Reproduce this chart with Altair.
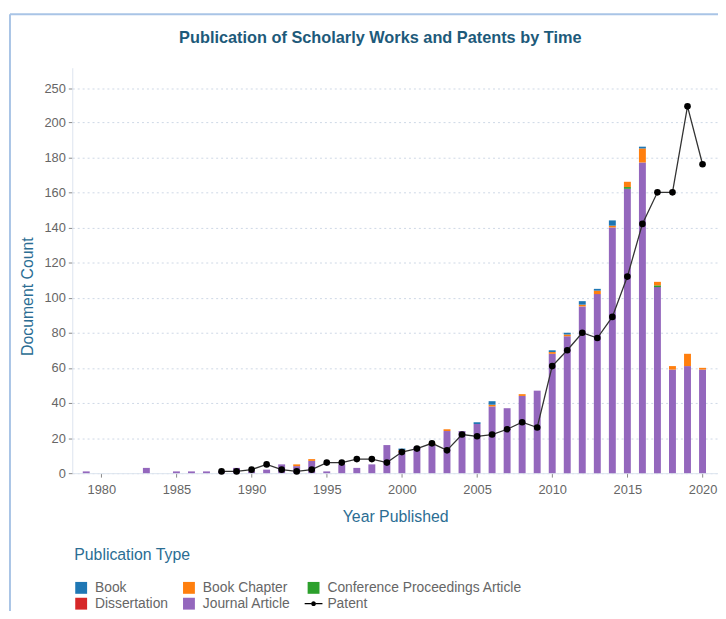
import altair as alt
import pandas as pd

# ---- data ----
years = list(range(1979, 2021))
journal_article = [1, 0, 0, 0, 3, 0, 1, 1, 1, 1, 3, 1, 2, 5, 4, 7, 1, 5, 3, 5,
                   16, 12, 15, 16, 24, 24, 28, 38, 37, 44, 47, 68, 78, 95, 102, 140,
                   162, 177, 106, 59, 61, 59]
dissertation = [0] * 42
conference = [0] * 36 + [1, 0, 1, 0, 0, 0]
book_chapter = [0, 0, 0, 0, 0, 0, 0, 0, 0, 0, 0, 0, 0, 0, 1, 1, 0, 0, 0, 0,
                0, 1, 0, 1, 1, 0, 0, 1, 0, 1, 0, 1, 1, 1, 2, 1,
                3, 8, 2, 2, 7, 1]
book = [0, 0, 0, 0, 0, 0, 0, 0, 0, 0, 0, 0, 0, 0, 0, 0, 0, 0, 0, 0,
        0, 1, 0, 0, 0, 0, 1, 2, 0, 0, 0, 1, 1, 2, 1, 3,
        0, 1, 0, 0, 0, 0]

patent_years = list(range(1988, 2021))
patent = [1, 1, 2, 5, 2, 1, 2, 6, 6, 8, 8, 6, 12, 14, 17, 13, 22, 21, 22, 25,
          29, 26, 61, 70, 80, 77, 89, 112, 142, 160, 160, 209, 176]

types = ["Book", "Book Chapter", "Conference Proceedings Article",
         "Dissertation", "Journal Article", "Patent"]
colors = ["#1f77b4", "#ff7f0e", "#2ca02c", "#d62728", "#9467bd", "#000000"]
stack_rank = {"Journal Article": 0, "Dissertation": 1,
              "Conference Proceedings Article": 2, "Book Chapter": 3, "Book": 4}

y_ticks = [0, 20, 40, 60, 80, 100, 120, 140, 160, 180, 200, 250]
x_ticks = [1980, 1985, 1990, 1995, 2000, 2005, 2010, 2015, 2020]

rows = []
for name, vals in [("Journal Article", journal_article), ("Dissertation", dissertation),
                   ("Conference Proceedings Article", conference),
                   ("Book Chapter", book_chapter), ("Book", book)]:
    for yr, v in zip(years, vals):
        if v:
            rows.append({"year": yr, "type": name, "count": v, "rank": stack_rank[name]})
bars_df = pd.DataFrame(rows)
pat_df = pd.DataFrame({"year": patent_years, "count": patent})

FONT = "Liberation Sans"
TITLE_BLUE = "#2b6d93"
W, H = 653, 410

x_scale = alt.Scale(domain=[1978.4, 2020.7], nice=False, zero=False)
# the reference axis is linear up to ~210, then compressed up to its 250 tick
y_scale = alt.Scale(domain=[0, 210, 250, 301], range=[H, 37.25, 21, 0], nice=False, zero=False)

x_axis = alt.Axis(values=x_ticks, format="d", grid=False, domainColor="#dde5ef",
                  tickColor="#888", tickSize=4, tickCount=20, labelFontSize=13, labelColor="#666",
                  labelFont=FONT, labelPadding=7, titleFont=FONT, titleFontSize=16,
                  titleFontWeight="normal", titleColor=TITLE_BLUE, titlePadding=12)
y_axis = alt.Axis(values=y_ticks, tickCount=30, labelOverlap=False, grid=True,
                  gridColor="#cdd8e6", gridDash=[2, 3],
                  domainColor="#dde5ef", tickColor="#888", tickSize=4,
                  labelFontSize=13, labelColor="#666", labelFont=FONT, labelPadding=3,
                  titleFont=FONT, titleFontSize=16, titleFontWeight="normal",
                  titleColor=TITLE_BLUE, titleAngle=-90, titleX=-45, titleY=231,
                  titleAlign="center", titleBaseline="middle")

legend = alt.Legend(
    title="Publication Type", orient="none", legendX=2, legendY=485,
    direction="horizontal", columns=3, titleFont=FONT, titleFontSize=16,
    titleFontWeight="normal", titleColor=TITLE_BLUE, titlePadding=18,
    labelFont=FONT, labelFontSize=14, labelColor="#666", labelOffset=7, labelLimit=400,
    symbolSize=144, rowPadding=2, columnPadding=14, symbolStrokeWidth=0,
    symbolType={"expr": "datum.label == 'Patent' ? "
                "'M-1.5,-0.1H-0.4V0.1H-1.5Z M-0.4,0A0.4,0.4 0 1,1 0.4,0A0.4,0.4 0 1,1 -0.4,0Z M0.4,-0.1H1.5V0.1H0.4Z'"
                " : 'square'"},
)

bars = alt.Chart(bars_df).mark_bar(size=7).encode(
    x=alt.X("year:Q", scale=x_scale, axis=x_axis, title="Year Published"),
    y=alt.Y("count:Q", stack="zero", scale=y_scale, axis=y_axis, title="Document Count"),
    color=alt.Color("type:N", scale=alt.Scale(domain=types, range=colors), legend=legend),
    order=alt.Order("rank:Q", sort="ascending"),
)

line = alt.Chart(pat_df).mark_line(color="#333333", strokeWidth=1.3).encode(
    x=alt.X("year:Q", scale=x_scale),
    y=alt.Y("count:Q", scale=y_scale),
)
points = alt.Chart(pat_df).mark_circle(size=45, color="#000000", opacity=1).encode(
    x=alt.X("year:Q", scale=x_scale),
    y=alt.Y("count:Q", scale=y_scale),
)

frame_data = alt.Data(values=[{"a": 1}])
frame_left = alt.Chart(frame_data).mark_rule(color="#a9c4e6", strokeWidth=2).encode(
    x=alt.value(-63), y=alt.value(-54), y2=alt.value(560))
frame_top = alt.Chart(frame_data).mark_rule(color="#a9c4e6", strokeWidth=2).encode(
    x=alt.value(-63), x2=alt.value(700), y=alt.value(-54))

chart = alt.layer(frame_left, frame_top, bars, line, points).properties(
    width=W, height=H,
    title=alt.TitleParams("Publication of Scholarly Works and Patents by Time",
                          font=FONT, fontSize=16.5, fontWeight="bold", color="#1d5a7a",
                          anchor="middle", frame="group", dx=-15, dy=38),
    autosize=alt.AutoSizeParams(type="none"),
    padding={"left": 65, "top": 57, "right": 0, "bottom": 136},
).configure_view(stroke=None)

chart.save("out.html", embed_options={"renderer": "svg", "actions": False})
